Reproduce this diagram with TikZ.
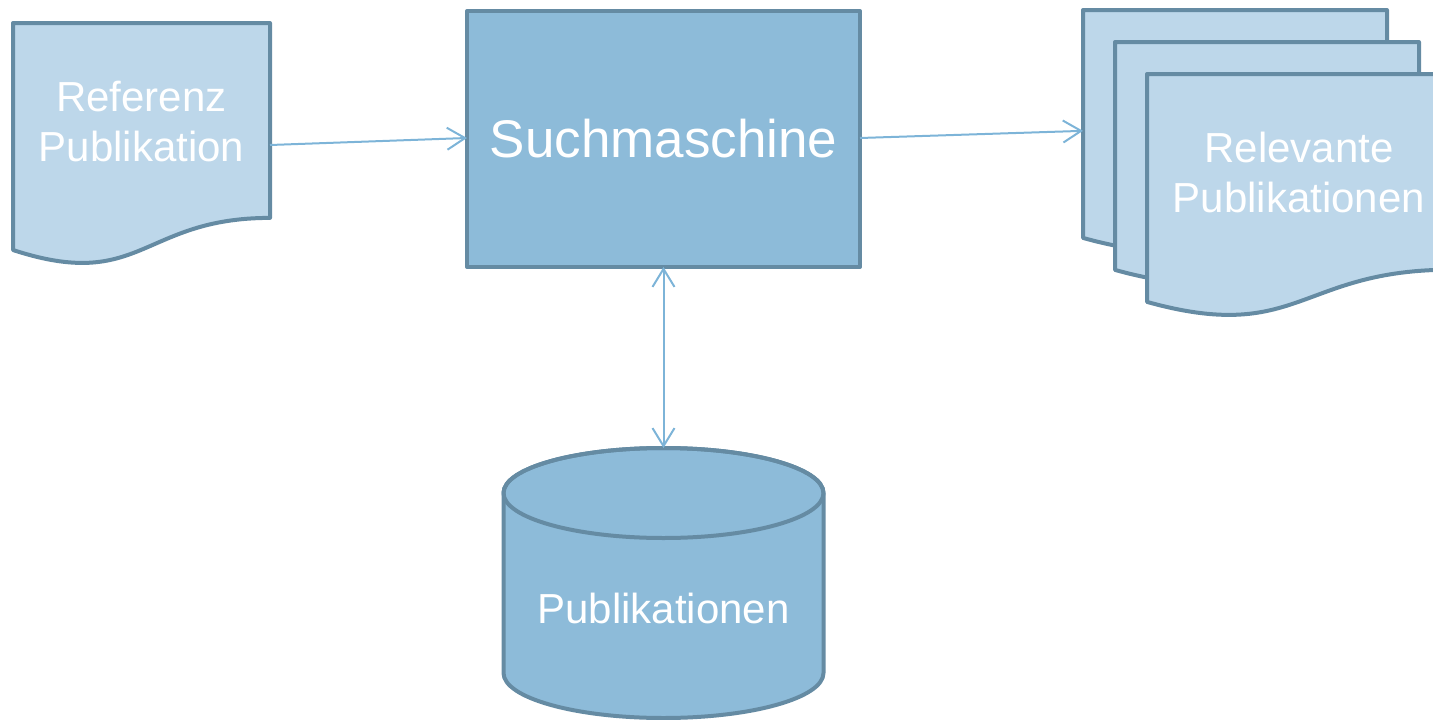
\documentclass[tikz,border=0pt]{standalone}
\usepackage{fontspec}
\setmainfont{Liberation Sans}
\usetikzlibrary{arrows.meta}
\definecolor{docfill}{RGB}{189,215,234}
\definecolor{boxfill}{RGB}{141,187,217}
\definecolor{bordercol}{RGB}{101,139,163}
\definecolor{arrowcol}{RGB}{125,180,216}
\begin{document}
\begin{tikzpicture}[x=1pt,y=-1pt,
  shapeline/.style={draw=bordercol, line width=4pt, line join=round},
  docshape/.style={shapeline, fill=docfill},
  boxshape/.style={shapeline, fill=boxfill},
  frame/.style={draw=none, inner sep=0pt, outer sep=0pt, text=white, align=center},
  labelfont/.style={font=\fontsize{42}{50.4}\selectfont},
  bigfont/.style={font=\fontsize{53}{63.6}\selectfont},
  conn/.style={draw=arrowcol, line width=2pt, -{Straight Barb[length=18pt,width=22pt]}},
  conntwo/.style={draw=arrowcol, line width=2pt, {Straight Barb[length=18pt,width=22pt]}-{Straight Barb[length=18pt,width=22pt]}}
]
\useasboundingbox (0,0) rectangle (1433,720);

% Referenz Publikation (document)
\path[docshape] (13,23) -- (270,23) -- (270,217.9) .. controls (141.5,217.9) and (141.5,292.1) .. (13,250) -- cycle;
\node[frame, labelfont, minimum width=257pt, minimum height=195pt] (ref) at (141.5,121.5) {Referenz\\Publikation};

% Suchmaschine
\node[boxshape, inner sep=0pt, outer sep=0pt, text=white, bigfont, minimum width=393pt, minimum height=256pt] (such) at (663.5,139) {Suchmaschine};

% Relevante Publikationen (multi-document)
\path[docshape] (1083,10) -- (1387,10) -- (1387,205.7) .. controls (1235,205.7) and (1235,280.2) .. (1083,237.9) -- cycle;
\path[docshape] (1115,42) -- (1419,42) -- (1419,237.7) .. controls (1267,237.7) and (1267,312.2) .. (1115,269.9) -- cycle;
\path[docshape] (1147,74) -- (1451,74) -- (1451,269.7) .. controls (1299,269.7) and (1299,344.2) .. (1147,301.9) -- cycle;
\node[frame, minimum width=304pt, minimum height=195.7pt] (relback) at (1235,107.85) {};
\node[frame, minimum width=304pt, minimum height=195.7pt] (relmid) at (1267,139.85) {};
\node[frame, labelfont, minimum width=304pt, minimum height=195.7pt] (relfront) at (1299,172.7) {Relevante\\Publikationen};

% Publikationen (database cylinder)
\path[boxshape] (503.5,493) -- (503.5,673) arc[start angle=180,end angle=360,x radius=160pt,y radius=45pt] -- (823.5,493) arc[start angle=0,end angle=180,x radius=160pt,y radius=45pt] -- cycle;
\draw[shapeline] (663.5,493) ellipse [x radius=160pt, y radius=45pt];
\node[frame, minimum width=320pt, minimum height=270pt] (db) at (663.5,583) {};
\node[frame, labelfont] (dbtext) at (663.5,608) {Publikationen};

% connectors
\draw[conn] ([yshift=-23.5pt]ref.east) -- ([yshift=1pt]such.west);
\draw[conn] ([yshift=1pt]such.east) -- ([yshift=-23pt]relback.west);
\draw[conntwo] (such.south) -- (db.north);
\end{tikzpicture}
\end{document}
